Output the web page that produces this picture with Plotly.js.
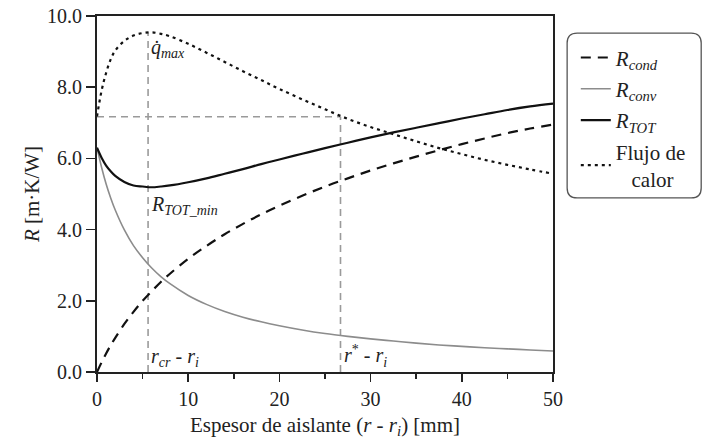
<!DOCTYPE html>
<html>
<head>
<meta charset="utf-8">
<script src="https://cdn.plot.ly/plotly-3.0.1.min.js"></script>
<style>
html,body{margin:0;padding:0;background:#fff;}
#chart{width:704px;height:447px;}
#chart text{font-family:"Liberation Serif","Times New Roman","DejaVu Serif",serif !important;}
</style>
</head>
<body>
<div id="chart"></div>
<script>
// Insulation thickness (mm)
const thickness = [0,0.5,1,1.5,2,3,4,5,6,7,8,10,12,14,16,18,20,22.5,25,27.5,30,32.5,35,37.5,40,42.5,45,47.5,50];
// Conduction resistance
const rCond = [0,0.27,0.52,0.75,0.96,1.35,1.69,2.00,2.27,2.53,2.76,3.18,3.54,3.87,4.16,4.43,4.67,4.95,5.21,5.44,5.66,5.86,6.05,6.23,6.40,6.56,6.71,6.84,6.95];
// Convection resistance
const rConv = [6.30,5.75,5.28,4.89,4.55,3.99,3.55,3.21,2.92,2.68,2.48,2.15,1.90,1.70,1.54,1.41,1.30,1.18,1.08,1.00,0.93,0.87,0.81,0.76,0.72,0.68,0.65,0.62,0.59];
// Total resistance
const rTot = [6.30,6.02,5.80,5.64,5.51,5.34,5.24,5.21,5.19,5.21,5.24,5.33,5.44,5.57,5.70,5.84,5.97,6.13,6.29,6.44,6.59,6.73,6.86,6.99,7.12,7.24,7.36,7.46,7.54];
// Heat flow (scaled)
const heatFlow = [7.18,7.90,8.40,8.78,9.03,9.30,9.45,9.52,9.54,9.50,9.43,9.22,8.97,8.71,8.45,8.20,7.95,7.66,7.38,7.11,6.88,6.68,6.48,6.29,6.12,5.96,5.82,5.69,5.57];
// Reference guide values
const rCritical = 5.6;
const rStar = 26.7;
const qMax = 9.54;
const qStar = 7.17;
const xTicks = [0,10,20,30,40,50];
const yTicks = [0,2,4,6,8,10];

const serif = "Liberation Serif, Times New Roman, DejaVu Serif, serif";
const ink = '#222';
const guide = {color:'#9a9a9a', width:1.6, dash:'7px,5px'};

const traces = [
  {x:[rCritical,rCritical], y:[0,qMax], mode:'lines', line:guide, showlegend:false, hoverinfo:'skip'},
  {x:[rStar,rStar], y:[0,qStar], mode:'lines', line:guide, showlegend:false, hoverinfo:'skip'},
  {x:[0,rStar], y:[qStar,qStar], mode:'lines', line:guide, showlegend:false, hoverinfo:'skip'},
  {x:thickness, y:rCond, mode:'lines', legendgroup:'a', name:'<i>R</i><sub><i>cond</i></sub>', line:{color:'#111', width:2.2, dash:'10px,7px', shape:'spline'}},
  {x:thickness, y:rConv, mode:'lines', legendgroup:'b', name:'<i>R</i><sub><i>conv</i></sub>', line:{color:'#8c8c8c', width:1.6, shape:'spline'}},
  {x:thickness, y:rTot, mode:'lines', legendgroup:'c', name:'<i>R</i><sub><i>TOT</i></sub>', line:{color:'#111', width:2.2, shape:'spline'}},
  {x:thickness, y:heatFlow, mode:'lines', legendgroup:'d', name:'Flujo de<br>\u00a0\u00a0\u00a0calor', line:{color:'#111', width:2.2, dash:'3px,4px', shape:'spline'}}
];

const rx = 10/456, ry = 10/356;
const x0 = 1.031, x1 = 1.325, y0 = 0.489, y1 = 0.952;
const boxPath = `M ${x0+rx},${y1} L ${x1-rx},${y1} Q ${x1},${y1} ${x1},${y1-ry} L ${x1},${y0+ry} Q ${x1},${y0} ${x1-rx},${y0} L ${x0+rx},${y0} Q ${x0},${y0} ${x0},${y0+ry} L ${x0},${y1-ry} Q ${x0},${y1} ${x0+rx},${y1} Z`;

const layout = {
  width:704, height:447,
  margin:{l:97, r:151, t:16, b:75},
  paper_bgcolor:'#fff', plot_bgcolor:'#fff',
  font:{family:serif, size:20, color:ink},
  showlegend:true,
  legend:{x:1.05, y:0.94, xanchor:'left', yanchor:'top', bgcolor:'rgba(0,0,0,0)', borderwidth:0,
          font:{family:serif, size:21, color:ink}, itemwidth:30, tracegroupgap:1},
  xaxis:{range:[0,50], tickvals:xTicks, ticks:'outside', ticklen:8, tickwidth:1.5, tickcolor:ink,
         showline:true, linewidth:2, linecolor:ink, mirror:true, showgrid:false, zeroline:false,
         minor:{dtick:5, ticks:'outside', ticklen:5, tickwidth:1.5, tickcolor:ink},
         tickfont:{family:serif, size:20, color:ink},
         title:{text:'Espesor de aislante (<i>r</i> - <i>r</i><sub><i>i</i></sub>) [mm]', font:{family:serif, size:21, color:ink}, standoff:8}},
  yaxis:{range:[0,10], tickvals:yTicks, tickformat:'.1f', ticks:'outside', ticklen:9, tickwidth:1.5, tickcolor:ink,
         showline:true, linewidth:2, linecolor:ink, mirror:true, showgrid:false, zeroline:false,
         tickfont:{family:serif, size:20, color:ink},
         title:{text:'<i>R</i> [m·K/W]', font:{family:serif, size:21, color:ink}, standoff:2}},
  shapes:[{type:'path', xref:'paper', yref:'paper', path:boxPath, line:{color:'#555', width:1.3}, fillcolor:'rgba(0,0,0,0)'}],
  annotations:[
    {x:rCritical, y:qMax, xref:'x', yref:'y', text:'<i>q̇</i><sub><i>max</i></sub>', showarrow:false, xanchor:'left', yanchor:'top', xshift:1, yshift:-2, font:{family:serif, size:20, color:ink}},
    {x:rCritical, y:5.19, xref:'x', yref:'y', text:'<i>R</i><sub><i>TOT_min</i></sub>', showarrow:false, xanchor:'left', yanchor:'top', xshift:1, yshift:-4, font:{family:serif, size:20, color:ink}},
    {x:rCritical, y:0, xref:'x', yref:'y', text:'<i>r</i><sub><i>cr</i></sub> - <i>r</i><sub><i>i</i></sub>', showarrow:false, xanchor:'left', yanchor:'bottom', xshift:1, yshift:0, font:{family:serif, size:20, color:ink}},
    {x:rStar, y:0, xref:'x', yref:'y', text:'<i>r</i><sup>*</sup> - <i>r</i><sub><i>i</i></sub>', showarrow:false, xanchor:'left', yanchor:'bottom', xshift:1, yshift:0, font:{family:serif, size:20, color:ink}}
  ]
};

Plotly.newPlot('chart', traces, layout, {displayModeBar:false, staticPlot:true});
</script>
</body>
</html>
